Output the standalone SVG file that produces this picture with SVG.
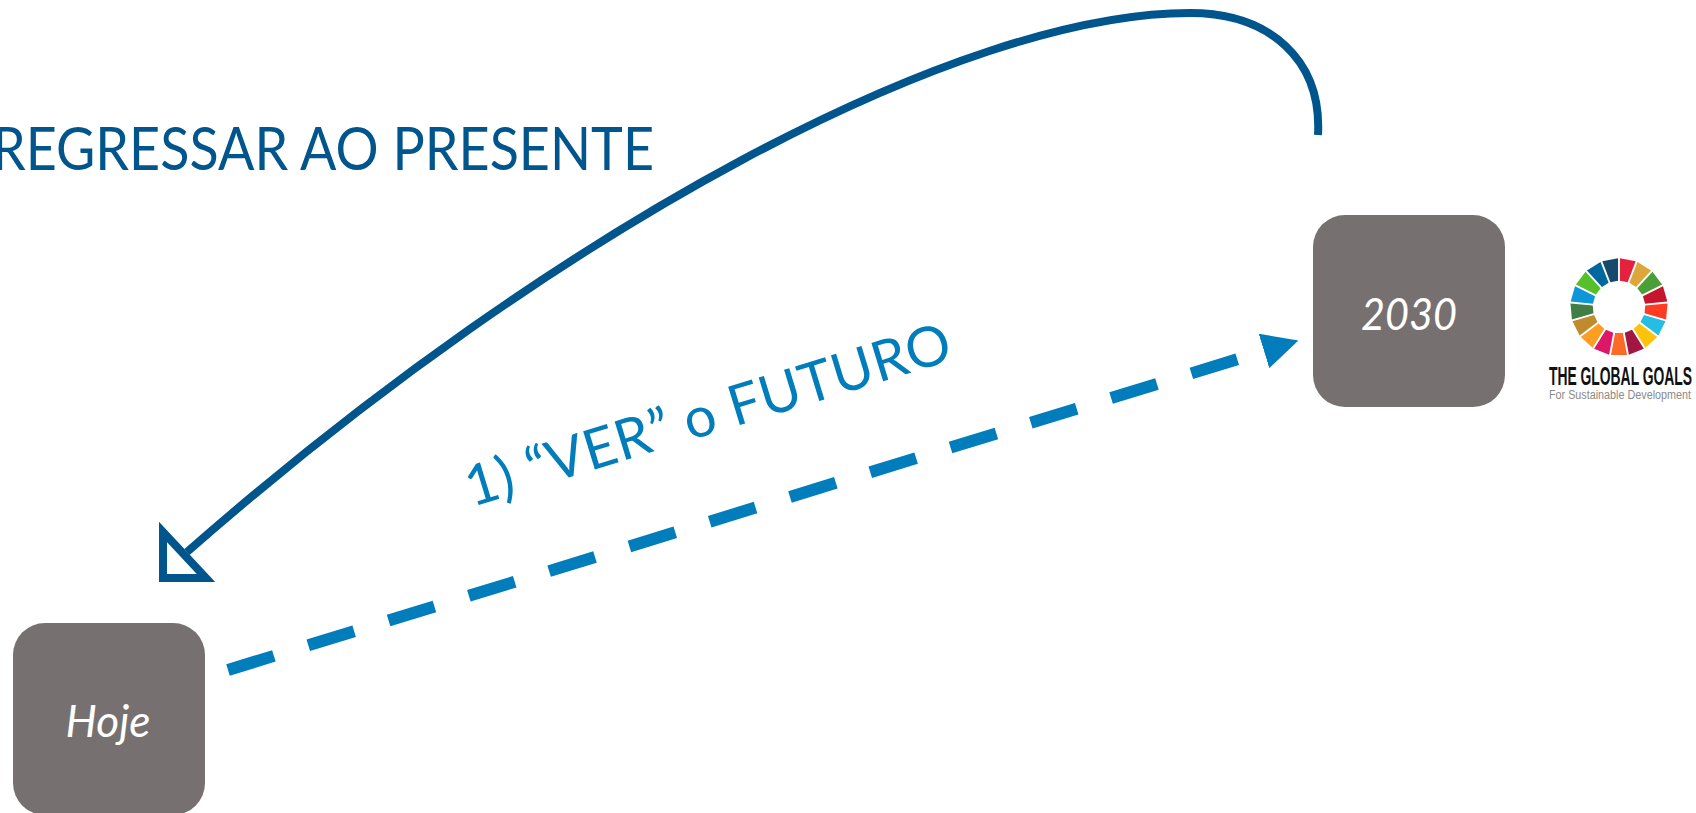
<svg xmlns="http://www.w3.org/2000/svg" width="1696" height="813" viewBox="0 0 1696 813">
<style>
.box{fill:#767170}
.lbl{font-family:"Lato","Liberation Sans",sans-serif;font-size:44px;font-style:italic;fill:#fff;text-anchor:middle}
.title{font-family:"Lato","Liberation Sans",sans-serif;font-size:60px}
.ret{fill:none;stroke:#00558c;stroke-width:8}
.see{fill:none;stroke:#007dba;stroke-width:12;stroke-dasharray:48 36}
</style>
<defs>
<marker id="openHead" markerUnits="userSpaceOnUse" markerWidth="70" markerHeight="70" viewBox="0 0 70 70" refX="32" refY="34" orient="0" overflow="visible">
<polygon points="8,14 8,60 51,60" fill="#fff" stroke="#00558c" stroke-width="8" stroke-miterlimit="10"/>
</marker>
<marker id="solidHead" markerUnits="userSpaceOnUse" markerWidth="36" markerHeight="36" viewBox="0 0 36 36" refX="0" refY="18" orient="auto">
<path d="M0 0L36 18L0 36Z" fill="#007dba"/>
</marker>
<polygon id="seg" points="-8,-48 8,-48 3.9,-26 -3.9,-26"/>
<filter id="soft" x="-5%" y="-5%" width="110%" height="110%"><feGaussianBlur stdDeviation="0.6"/></filter>
</defs>
<rect width="1696" height="813" fill="#fff"/>
<g id="connectors">
<path id="return-arc" class="ret" d="M1318 135C1322 60 1270 13 1190 13C960 13 560 225 187 552" marker-end="url(#openHead)"/>
<path id="see-line" class="see" d="M228 670L1264 351" marker-end="url(#solidHead)"/>
</g>
<g id="node-hoje">
<rect class="box" x="13" y="623" width="192" height="192" rx="32"/>
<text class="lbl" x="108" y="737" textLength="85" lengthAdjust="spacingAndGlyphs">Hoje</text>
</g>
<g id="node-2030">
<rect class="box" x="1313" y="215" width="192" height="192" rx="32"/>
<text class="lbl" x="1409" y="329.5" textLength="96" lengthAdjust="spacingAndGlyphs">2030</text>
</g>
<g id="label-regressar">
<text class="title" x="-8" y="170" fill="#00558c" textLength="662" lengthAdjust="spacingAndGlyphs">REGRESSAR AO PRESENTE</text>
</g>
<g id="label-ver">
<text class="title" transform="translate(472 507) rotate(-17)" fill="#007dba" style="font-size:56px" textLength="505" lengthAdjust="spacing">1) “VER” o FUTURO</text>
</g>
<g id="global-goals-logo">
<g transform="translate(1619 307)" filter="url(#soft)">
<use href="#seg" transform="rotate(10.6)" fill="#e5243b"/>
<use href="#seg" transform="rotate(31.8)" fill="#dda63a"/>
<use href="#seg" transform="rotate(52.9)" fill="#4c9f38"/>
<use href="#seg" transform="rotate(74.1)" fill="#c5192d"/>
<use href="#seg" transform="rotate(95.3)" fill="#ff3a21"/>
<use href="#seg" transform="rotate(116.5)" fill="#26bde2"/>
<use href="#seg" transform="rotate(137.6)" fill="#fcc30b"/>
<use href="#seg" transform="rotate(158.8)" fill="#a21942"/>
<use href="#seg" transform="rotate(180)" fill="#fd6925"/>
<use href="#seg" transform="rotate(201.2)" fill="#dd1367"/>
<use href="#seg" transform="rotate(222.4)" fill="#fd9d24"/>
<use href="#seg" transform="rotate(243.5)" fill="#bf8b2e"/>
<use href="#seg" transform="rotate(264.7)" fill="#3f7e44"/>
<use href="#seg" transform="rotate(285.9)" fill="#0a97d9"/>
<use href="#seg" transform="rotate(307.1)" fill="#56c02b"/>
<use href="#seg" transform="rotate(328.2)" fill="#00689d"/>
<use href="#seg" transform="rotate(349.4)" fill="#19486a"/>
</g>
<text x="1549" y="385" font-family="'Liberation Sans Narrow','Liberation Sans',sans-serif" font-weight="700" font-size="25" fill="#111" textLength="143" lengthAdjust="spacingAndGlyphs">THE GLOBAL GOALS</text>
<text x="1549" y="398.5" font-family="'Liberation Sans',sans-serif" font-size="12" fill="#8a8a8a" textLength="142" lengthAdjust="spacingAndGlyphs">For Sustainable Development</text>
</g>
</svg>
